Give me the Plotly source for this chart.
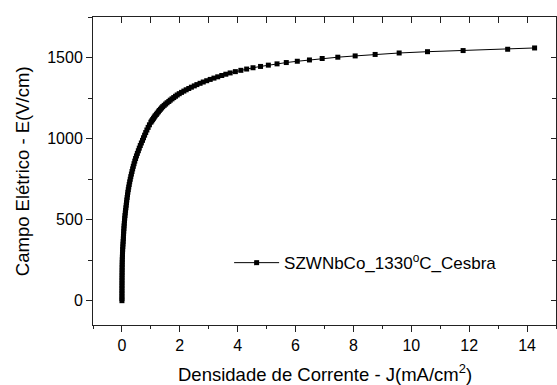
import plotly.graph_objects as go

# Electric field (V/cm) and current density (mA/cm^2) of the varistor sample
campo_e = [
    0, 13, 29, 45, 61, 77, 93, 109, 125, 141, 157, 173, 189, 205, 221, 237, 253, 269, 285,
    301, 317, 333, 349, 365, 381, 397, 413, 429, 445, 461, 477, 493, 509, 525, 541, 557,
    573, 589, 605, 621, 637, 653, 669, 685, 701, 717, 733, 749, 765, 781, 797, 813, 829,
    845, 861, 877, 893, 909, 925, 941, 957, 973, 989, 1005, 1021, 1037, 1053, 1069, 1085,
    1101, 1109, 1117, 1125, 1133, 1141, 1149, 1157, 1165, 1173, 1181, 1189, 1197, 1205,
    1213, 1221, 1229, 1237, 1245, 1253, 1261, 1269, 1277, 1285, 1293, 1301, 1309, 1317,
    1325, 1333, 1341, 1349, 1357, 1365, 1373, 1381, 1389, 1397, 1405, 1413, 1421, 1429,
    1437, 1445, 1453, 1461, 1469, 1477, 1485, 1494, 1502, 1510, 1519, 1528, 1536, 1543,
    1551, 1559,
]
densidade_j = [
    0, 0.0001, 0.0003, 0.0005, 0.0008, 0.001, 0.0015, 0.002, 0.0025, 0.003, 0.004, 0.005,
    0.006, 0.007, 0.008, 0.010, 0.012, 0.015, 0.018, 0.021, 0.025, 0.030, 0.036, 0.042,
    0.048, 0.052, 0.057, 0.062, 0.068, 0.074, 0.081, 0.088, 0.096, 0.105, 0.115, 0.125,
    0.137, 0.147, 0.157, 0.168, 0.180, 0.192, 0.205, 0.219, 0.235, 0.251, 0.268, 0.287,
    0.306, 0.327, 0.348, 0.370, 0.393, 0.418, 0.443, 0.471, 0.501, 0.533, 0.567, 0.599,
    0.634, 0.671, 0.710, 0.745, 0.783, 0.821, 0.862, 0.905, 0.95, 1.00, 1.03, 1.06, 1.09,
    1.12, 1.15, 1.19, 1.22, 1.26, 1.29, 1.33, 1.37, 1.41, 1.46, 1.51, 1.56, 1.62, 1.67,
    1.73, 1.79, 1.85, 1.91, 1.98, 2.06, 2.14, 2.22, 2.31, 2.40, 2.50, 2.59, 2.70, 2.81,
    2.93, 3.05, 3.18, 3.31, 3.45, 3.59, 3.74, 3.92, 4.11, 4.31, 4.53, 4.79, 5.06, 5.36,
    5.68, 6.06, 6.48, 6.92, 7.46, 8.06, 8.75, 9.58, 10.56, 11.79, 13.33, 14.26,
]

x_ticks = [0, 2, 4, 6, 8, 10, 12, 14]
y_ticks = [0, 500, 1000, 1500]
x_range = [-1, 15]
y_range = [-150, 1750]

FONT = "Liberation Sans, Arial, sans-serif"
AX = "#222222"

fig = go.Figure()
fig.add_trace(go.Scatter(
    x=densidade_j, y=campo_e,
    mode="lines+markers",
    name="SZWNbCo_1330<sup>o</sup>C_Cesbra",
    line=dict(color="black", width=1),
    marker=dict(symbol="square", size=5, color="black", line=dict(width=0)),
))
# empty trace so the mirrored top/right axes are drawn
fig.add_trace(go.Scatter(x=[], y=[], xaxis="x2", yaxis="y2", showlegend=False,
                         hoverinfo="skip"))

fig.update_layout(
    width=557, height=385,
    margin=dict(l=93, r=1, t=17, b=60),
    paper_bgcolor="white", plot_bgcolor="white",
    font=dict(family=FONT, color="black"),
    showlegend=True,
    legend=dict(x=0.294, y=0.201, xanchor="left", yanchor="middle",
                bgcolor="rgba(0,0,0,0)", font=dict(size=17, family=FONT),
                itemwidth=45),
    xaxis=dict(range=x_range, tickvals=x_ticks, ticks="outside", ticklen=6,
               tickcolor=AX, showline=True, linecolor=AX, linewidth=1,
               showgrid=False, zeroline=False, tickfont=dict(size=16),
               minor=dict(dtick=1, tick0=0, ticks="outside", ticklen=3, tickcolor=AX)),
    yaxis=dict(range=y_range, tickvals=y_ticks, ticks="outside", ticklen=6,
               tickcolor=AX, showline=True, linecolor=AX, linewidth=1,
               showgrid=False, zeroline=False, tickfont=dict(size=16),
               minor=dict(dtick=250, tick0=0, ticks="outside", ticklen=4, tickcolor=AX)),
    xaxis2=dict(range=x_range, overlaying="x", side="top", anchor="y2",
                tickvals=list(range(-1, 16)), ticks="inside", ticklen=6, tickcolor=AX,
                showticklabels=False, showline=True, linecolor=AX, linewidth=1,
                showgrid=False, zeroline=False),
    yaxis2=dict(range=y_range, overlaying="y", side="right", anchor="x2",
                tickvals=y_ticks, ticks="inside", ticklen=5, tickcolor=AX,
                showticklabels=False, showline=True, linecolor=AX, linewidth=1,
                showgrid=False, zeroline=False,
                minor=dict(dtick=250, tick0=0, ticks="inside", ticklen=4, tickcolor=AX)),
    annotations=[
        dict(text="Densidade de Corrente - J(mA/cm<sup>2</sup>)", xref="paper", yref="paper",
             x=0.5, y=-0.155, xanchor="center", yanchor="middle", showarrow=False,
             font=dict(size=18.5, family=FONT)),
        dict(text="Campo Elétrico - E(V/cm)", xref="paper", yref="paper",
             x=-0.153, y=0.5, xanchor="center", yanchor="middle", showarrow=False,
             textangle=-90, font=dict(size=18.5, family=FONT)),
    ],
)

fig.write_html("out.html")
